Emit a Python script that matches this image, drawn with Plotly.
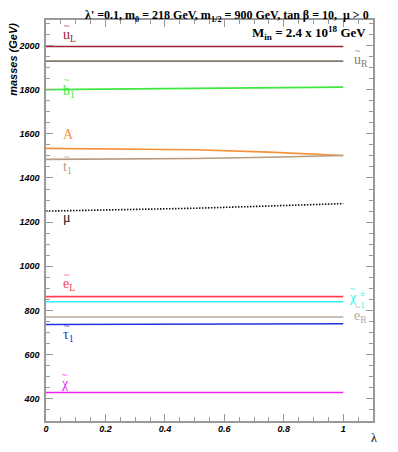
import plotly.graph_objects as go

# lambda grid and masses (GeV)
lam = [0, 0.25, 0.5, 0.75, 1]
m_uL = [1995, 1995, 1995, 1995, 1995]
m_uR = [1929, 1929, 1929, 1929, 1929]
m_b1 = [1800, 1802, 1805, 1808, 1811]
m_A = [1534, 1532, 1528, 1517, 1502]
m_t1 = [1484, 1486, 1488, 1494, 1502]
m_mu = [1250, 1255, 1263, 1273, 1284]
m_eL = [863, 863, 863, 863, 863]
m_chipm = [840, 840, 840, 840, 840]
m_eR = [771, 771, 771, 771, 771]
m_tau1 = [737, 737, 738, 739, 740]
m_chi = [429, 429, 429, 429, 429]

series = [
    (m_uL, "#9b2335", "solid"),
    (m_uR, "#857a6e", "solid"),
    (m_b1, "#3ee83e", "solid"),
    (m_A, "#f5913a", "solid"),
    (m_t1, "#b89a80", "solid"),
    (m_mu, "#111111", "1.5px,1.5px"),
    (m_eL, "#ff4256", "solid"),
    (m_chipm, "#2ef2f2", "solid"),
    (m_eR, "#bba89a", "solid"),
    (m_tau1, "#2233dd", "solid"),
    (m_chi, "#ee22ee", "solid"),
]

# labels: (text, lambda, mass, colour, tilde lift in px or None)
labels = [
    ("u<sub>L</sub>", 0.05, 2043, "#9b2335", 10),
    ("b<sub>1</sub>", 0.05, 1793, "#3ee83e", 12),
    ("A", 0.05, 1595, "#f5913a", None),
    ("t<sub>1</sub>", 0.05, 1448, "#b89a80", 11),
    ("μ", 0.05, 1223, "#111111", None),
    ("e<sub>L</sub>", 0.05, 920, "#ff4256", 10),
    ("τ<sub>1</sub>", 0.05, 688, "#2233dd", 10),
    ("χ", 0.045, 470, "#ee22ee", 9),
    ("u<sub>R</sub>", 1.03, 1932, "#857a6e", 10),
    ("χ", 1.013, 859, "#2ef2f2", 9),
    ("e<sub>R</sub>", 1.03, 774, "#bba89a", 10),
]

fig = go.Figure()
for vals, col, dash in series:
    fig.add_trace(go.Scatter(x=lam, y=vals, mode="lines",
                             line=dict(color=col, width=1.6, dash=dash),
                             showlegend=False, hoverinfo="skip"))

serif = "Liberation Serif"
for txt, lx, ly, col, lift in labels:
    fig.add_annotation(x=lx, y=ly, text=txt, showarrow=False, xanchor="left",
                       font=dict(family=serif, size=14, color=col))
    if lift is not None:
        fig.add_annotation(x=lx, y=ly, text="~", showarrow=False, xanchor="center",
                           xshift=6, yshift=lift,
                           font=dict(family=serif, size=10, color=col))

# stacked +- and 1 on the chargino label
fig.add_annotation(x=1.013, y=859, text="±<br>1", showarrow=False, xanchor="left",
                   xshift=11, yshift=-1, align="center",
                   font=dict(family=serif, size=9, color="#2ef2f2"))

fig.add_annotation(xref="paper", yref="paper", x=0.553, y=1, yshift=-6,
                   text="λ' =0.1, m<sub>0</sub> = 218 GeV, m<sub>1/2</sub> = 900 GeV, tan β = 10,  μ > 0",
                   showarrow=False, xanchor="center", yanchor="bottom",
                   font=dict(family=serif, size=12, color="black", weight="bold"))
fig.add_annotation(xref="paper", yref="paper", x=0.985, y=0.99, yshift=2,
                   text="M<sub>in</sub> = 2.4 x 10<sup>18</sup> GeV",
                   showarrow=False, xanchor="right", yanchor="top",
                   font=dict(family=serif, size=13, color="black", weight="bold"))
fig.add_annotation(xref="paper", yref="paper", x=-0.103, y=1, yshift=-1,
                   xanchor="center", yanchor="top",
                   text="masses (GeV)", textangle=-90, showarrow=False,
                   font=dict(family="Liberation Sans", size=11, color="black",
                             weight="bold", style="italic"))
fig.add_annotation(xref="paper", yref="paper", x=1.003, y=0, yshift=-17,
                   xanchor="center", yanchor="middle",
                   text="λ", showarrow=False,
                   font=dict(family=serif, size=12, color="black"))

tickfont = dict(family="Liberation Sans", size=9, color="black", weight="bold", style="italic")
fig.update_xaxes(range=[0, 1.1], tick0=0, dtick=0.2, ticks="inside", ticklen=7,
                 tickcolor="#999", showline=True, linecolor="#999", linewidth=1.5,
                 mirror="ticks", showgrid=False, zeroline=False, tickfont=tickfont,
                 ticklabelstandoff=-2,
                 minor=dict(tick0=0, dtick=0.05, ticks="inside", ticklen=4, tickcolor="#999"))
fig.update_yaxes(range=[300, 2115], tick0=0, dtick=200, ticks="inside", ticklen=7,
                 tickcolor="#999", showline=True, linecolor="#999", linewidth=1.5,
                 mirror="ticks", showgrid=False, zeroline=False, tickfont=tickfont,
                 ticklabelstandoff=3,
                 minor=dict(tick0=0, dtick=50, ticks="inside", ticklen=4, tickcolor="#999"))

# the page body adds an 8px margin, so the figure is sized to fit the window
fig.update_layout(width=390, height=444, margin=dict(l=36, r=25, t=10, b=31),
                  plot_bgcolor="white", paper_bgcolor="white")

fig.write_html("out.html")
